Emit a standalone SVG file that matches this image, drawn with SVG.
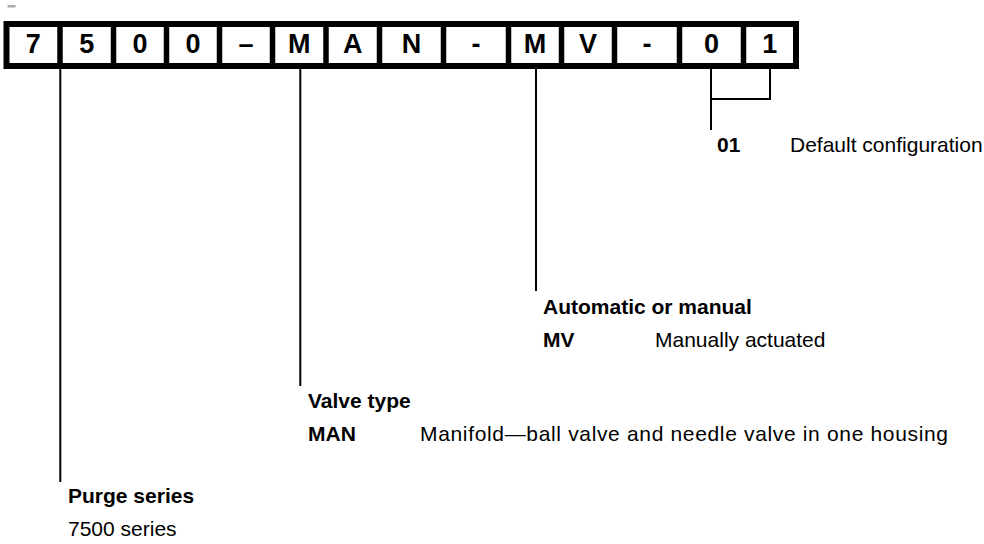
<svg xmlns="http://www.w3.org/2000/svg" width="984" height="544" viewBox="0 0 984 544">
  <style>
    .cell { font-family: "Liberation Sans", Arial, sans-serif; font-weight: bold; font-size: 27px; text-anchor: middle; fill: #000; }
    .lbl { font-family: "Liberation Sans", Arial, sans-serif; font-size: 21px; fill: #000; }
    .b { font-weight: bold; }
    .ln { stroke: #000; stroke-width: 2; fill: none; }
    .sep { stroke: #000; stroke-width: 5.5; }
  </style>
  <rect x="0" y="0" width="984" height="544" fill="#fff"/>
  <rect x="7.5" y="5" width="8" height="2.5" fill="#aaa"/>

  <g id="code-box">
    <rect x="6.5" y="24" width="789.5" height="42" fill="#fff" stroke="#000" stroke-width="6"/>
    <g class="sep">
      <line x1="60" y1="24" x2="60" y2="66"/>
      <line x1="113.5" y1="24" x2="113.5" y2="66"/>
      <line x1="166.5" y1="24" x2="166.5" y2="66"/>
      <line x1="219.5" y1="24" x2="219.5" y2="66"/>
      <line x1="272.5" y1="24" x2="272.5" y2="66"/>
      <line x1="326" y1="24" x2="326" y2="66"/>
      <line x1="379.5" y1="24" x2="379.5" y2="66"/>
      <line x1="443.5" y1="24" x2="443.5" y2="66"/>
      <line x1="508.5" y1="24" x2="508.5" y2="66"/>
      <line x1="561.5" y1="24" x2="561.5" y2="66"/>
      <line x1="614.5" y1="24" x2="614.5" y2="66"/>
      <line x1="679.5" y1="24" x2="679.5" y2="66"/>
      <line x1="743.5" y1="24" x2="743.5" y2="66"/>
    </g>
    <text class="cell" x="33.3" y="52.5">7</text>
    <text class="cell" x="86.8" y="52.5">5</text>
    <text class="cell" x="140" y="52.5">0</text>
    <text class="cell" x="193" y="52.5">0</text>
    <text class="cell" x="246" y="52.5">–</text>
    <text class="cell" x="299.3" y="52.5">M</text>
    <text class="cell" x="352.8" y="52.5">A</text>
    <text class="cell" x="411.5" y="52.5">N</text>
    <text class="cell" x="476" y="52.5">-</text>
    <text class="cell" x="535" y="52.5">M</text>
    <text class="cell" x="588" y="52.5">V</text>
    <text class="cell" x="647" y="52.5">-</text>
    <text class="cell" x="711.5" y="52.5">0</text>
    <text class="cell" x="769.8" y="52.5">1</text>
  </g>

  <g id="connectors" class="ln">
    <line x1="60.3" y1="69" x2="60.3" y2="482"/>
    <line x1="300.3" y1="69" x2="300.3" y2="386"/>
    <line x1="536" y1="69" x2="536" y2="291"/>
    <polyline points="711,69 711,130"/>
    <polyline points="770,69 770,99 711,99"/>
  </g>

  <g id="purge-series">
    <text class="lbl b" x="68" y="503">Purge series</text>
    <text class="lbl" x="68" y="536">7500 series</text>
  </g>

  <g id="valve-type">
    <text class="lbl b" x="308" y="408">Valve type</text>
    <text class="lbl b" x="308" y="441">MAN</text>
    <text class="lbl" x="420" y="441" textLength="528" lengthAdjust="spacing">Manifold—ball valve and needle valve in one housing</text>
  </g>

  <g id="automatic-manual">
    <text class="lbl b" x="543" y="314">Automatic or manual</text>
    <text class="lbl b" x="543" y="347">MV</text>
    <text class="lbl" x="655" y="347">Manually actuated</text>
  </g>

  <g id="configuration">
    <text class="lbl b" x="717" y="152">01</text>
    <text class="lbl" x="790" y="152">Default configuration</text>
  </g>
</svg>
